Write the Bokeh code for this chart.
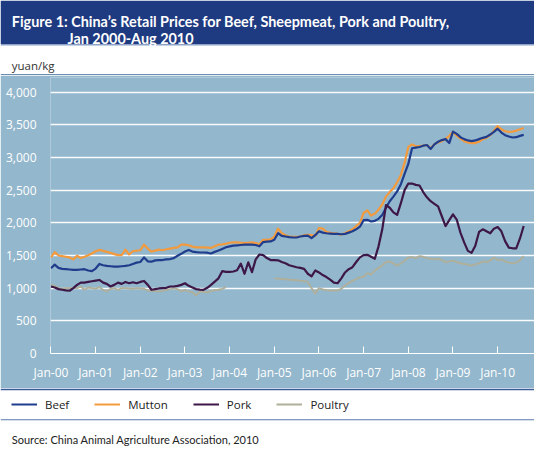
from bokeh.plotting import figure
from bokeh.models import (Range1d, FixedTicker, NumeralTickFormatter, BoxAnnotation,
                          Label, Legend, LegendItem, ColumnDataSource)
from bokeh.layouts import column
from bokeh.embed import file_html
from bokeh.resources import INLINE

nan = float("nan")

# ---------------- data (monthly, Jan 2000 - Aug 2010, yuan/kg) ----------------
tick_months = [0, 12, 24, 36, 48, 60, 72, 84, 96, 108, 120]
tick_labels = ["Jan-00", "Jan-01", "Jan-02", "Jan-03", "Jan-04", "Jan-05",
               "Jan-06", "Jan-07", "Jan-08", "Jan-09", "Jan-10"]
y_ticks = [0, 500, 1000, 1500, 2000, 2500, 3000, 3500, 4000]

beef = [
    1305, 1360, 1310, 1295, 1290, 1285, 1280, 1280, 1285, 1290, 1270, 1260,
    1300, 1370, 1350, 1340, 1335, 1330, 1330, 1335, 1340, 1350, 1370, 1390,
    1400, 1470, 1410, 1405, 1425, 1430, 1430, 1440, 1445, 1460, 1495, 1525,
    1560, 1585, 1560, 1550, 1545, 1545, 1542, 1530, 1555, 1575, 1600, 1625,
    1640, 1650, 1655, 1660, 1665, 1665, 1665, 1660, 1640, 1705, 1712, 1715,
    1740, 1840, 1800, 1790, 1780, 1775, 1775, 1790, 1800, 1805, 1765, 1810,
    1870, 1850, 1840, 1835, 1830, 1830, 1825, 1830, 1850, 1870, 1900, 1940,
    2040, 2045, 2020, 2030, 2060, 2120, 2230, 2330, 2400, 2480, 2590, 2750,
    2900, 3140, 3150, 3160, 3180, 3190, 3130, 3200, 3240, 3265, 3280, 3220,
    3395, 3360, 3310, 3280, 3260, 3250, 3260, 3280, 3300, 3315, 3350, 3390,
    3440, 3380, 3340, 3320, 3305, 3310, 3330, 3345,
]
mutton = [
    1470, 1550, 1500, 1490, 1480, 1470, 1440, 1495, 1460, 1480, 1505, 1530,
    1565, 1585, 1570, 1555, 1540, 1520, 1505, 1505, 1590, 1515, 1565, 1575,
    1580, 1665, 1605, 1560, 1575, 1590, 1580, 1595, 1605, 1615, 1625, 1665,
    1665, 1655, 1635, 1625, 1625, 1625, 1620, 1615, 1640, 1665, 1670, 1680,
    1695, 1700, 1700, 1695, 1690, 1695, 1700, 1690, 1670, 1740, 1740, 1745,
    1790, 1910, 1840, 1810, 1790, 1785, 1785, 1790, 1810, 1815, 1810, 1800,
    1920, 1910, 1860, 1845, 1840, 1830, 1820, 1840, 1870, 1900, 1950, 2000,
    2150, 2190, 2110, 2140, 2200, 2280, 2400, 2470, 2530, 2620, 2730, 2920,
    3160, 3200, 3170, 3175, 3180, 3190, 3140, 3200, 3230, 3250, 3280, 3330,
    3390, 3330, 3290, 3250, 3230, 3220, 3220, 3240, 3280, 3300, 3340, 3410,
    3480, 3430, 3400, 3390, 3395, 3410, 3430, 3450,
]
pork = [
    1025, 1010, 985, 975, 965, 960, 1000, 1050, 1085, 1085, 1095, 1105,
    1115, 1125, 1085, 1065, 1025, 1050, 1085, 1065, 1095, 1075, 1090, 1075,
    1095, 1110, 1050, 975, 985, 995, 1000, 1005, 1025, 1025, 1035, 1050,
    1075, 1035, 1010, 985, 978, 975, 1005, 1050, 1100, 1150, 1260, 1250,
    1250, 1255, 1275, 1375, 1220, 1395, 1245, 1440, 1515, 1505, 1460, 1430,
    1430, 1425, 1400, 1380, 1350, 1335, 1320, 1310, 1295, 1220, 1180, 1270,
    1240, 1200, 1170, 1130, 1085, 1075, 1150, 1240, 1290, 1320, 1400, 1470,
    1505, 1510, 1480, 1450, 1640, 1900, 2270, 2230, 2160, 2120, 2300, 2500,
    2600, 2600, 2580, 2570, 2470, 2390, 2330, 2290, 2250, 2100, 1950, 2040,
    2130, 2050, 1850, 1700, 1570, 1540, 1650, 1860, 1900, 1870, 1840, 1910,
    1935, 1870, 1720, 1620, 1610, 1610, 1760, 1950,
]
poultry = [
    1050, 1035, 1000, 990, 1000, 1000, 1000, 1000, 1025, 975, 1010, 1000,
    990, 1015, 975, 950, 990, 1000, 975, 1000, 1000, 995, 990, 1000,
    995, 990, 965, 960, 955, 950, 955, 975, 985, 1000, 985, 950,
    975, 950, 935, 890, 950, 940, 935, 955, 970, 975, 990, 1015,
    nan, nan, nan, nan, nan, nan, nan, nan, nan, nan, nan, nan,
    1150, 1145, 1140, 1135, 1130, 1125, 1120, 1115, 1105, 1095, 1000, 920,
    1000, 980, 970, 965, 965, 965, 990, 1040, 1080, 1110, 1140, 1165,
    1175, 1230, 1210, 1270, 1310, 1350, 1400, 1410, 1380, 1345, 1380, 1420,
    1470, 1475, 1460, 1490, 1480, 1460, 1450, 1440, 1450, 1430, 1395, 1410,
    1420, 1400, 1380, 1370, 1360, 1345, 1365, 1380, 1410, 1400, 1420, 1470,
    1430, 1440, 1410, 1390, 1380, 1390, 1430, 1490,
]
months = list(range(len(beef)))

series_names = ["Beef", "Mutton", "Pork", "Poultry"]
series_colors = ["#1f3d8c", "#f29a3d", "#3c1747", "#b0af99"]

# ---------------- styling ----------------
W = 534
H_HEAD, H_MAIN, H_FOOT = 75, 313, 62
NAVY = "#1e3a80"
PANEL = "#93b7cc"
TITLE_FONT = "Lato"
BODY_FONT = "Open Sans"


def blank(height):
    f = figure(width=W, height=height, x_range=Range1d(0, W), y_range=Range1d(height, 0),
               output_backend="svg", toolbar_location=None,
               x_axis_location=None, y_axis_location=None, min_border=0,
               min_border_left=0, min_border_right=0, min_border_top=0, min_border_bottom=0,
               outline_line_color=None, background_fill_color="white",
               border_fill_color="white", frame_align=False)
    f.grid.visible = False
    return f


def band(f, top, bottom, color):
    f.add_layout(BoxAnnotation(left=0, right=W, top=top, bottom=bottom, fill_color=color,
                               fill_alpha=1, line_color=None, level="underlay"))


def text(f, x, y, s, size, color, font, style="normal"):
    f.add_layout(Label(x=x, y=y, text=s, text_color=color, text_font=font,
                       text_font_size=size, text_font_style=style,
                       text_baseline="alphabetic"))


# ---------------- header ----------------
head = blank(H_HEAD)
band(head, 0, 43.5, NAVY)
band(head, 43.5, 45, "#8ea2c8")
band(head, 73.5, 75, "#6a8db0")
text(head, 11.3, 20.5, "Figure 1: China\u2019s Retail Prices for Beef, Sheepmeat, Pork and Poultry,",
     "14.4px", "white", TITLE_FONT, "bold")
text(head, 67, 37.5, "Jan 2000-Aug 2010", "14.4px", "white", TITLE_FONT, "bold")
text(head, 11.3, 64.5, "yuan/kg", "11.5px", "#333333", BODY_FONT)

# ---------------- main chart ----------------
src = ColumnDataSource(dict(month=months, Beef=beef, Mutton=mutton, Pork=pork, Poultry=poultry))

p = figure(width=W, height=H_MAIN, x_range=Range1d(-0.13, 129.9), y_range=Range1d(0, 4223),
           output_backend="svg", toolbar_location=None,
           min_border_left=50, min_border_right=0, min_border_top=2, min_border_bottom=35,
           background_fill_color=PANEL, border_fill_color=PANEL, outline_line_color=None,
           frame_align=False)

p.xaxis.ticker = FixedTicker(ticks=tick_months)
p.xaxis.major_label_overrides = {m: l for m, l in zip(tick_months, tick_labels)}
p.xaxis.axis_line_color = "white"
p.xaxis.axis_line_width = 1.2
p.xaxis.major_tick_in = 7
p.xaxis.major_tick_out = 0
p.xaxis.major_tick_line_color = "white"
p.xaxis.major_tick_line_width = 1
p.xaxis.minor_tick_line_color = None
p.xaxis.major_label_text_color = "white"
p.xaxis.major_label_text_font = BODY_FONT
p.xaxis.major_label_text_font_size = "12px"
p.xaxis.major_label_standoff = 10

p.yaxis.ticker = FixedTicker(ticks=y_ticks)
p.yaxis.formatter = NumeralTickFormatter(format="0,0")
p.yaxis.axis_line_color = None
p.yaxis.major_tick_line_color = None
p.yaxis.minor_tick_line_color = None
p.yaxis.major_label_text_color = "white"
p.yaxis.major_label_text_font = BODY_FONT
p.yaxis.major_label_text_font_size = "12px"
p.yaxis.major_label_standoff = 8

p.xgrid.visible = False
p.ygrid.ticker = FixedTicker(ticks=y_ticks)
p.ygrid.grid_line_color = "white"
p.ygrid.grid_line_width = 1.5
p.ygrid.grid_line_alpha = 0.95

for name in ["Poultry", "Mutton", "Beef", "Pork"]:
    c = series_colors[series_names.index(name)]
    p.line("month", name, source=src, line_color=c,
           line_width=2.2 if name != "Poultry" else 1.9, line_join="round")

# ---------------- footer: legend + source ----------------
foot = blank(H_FOOT)
band(foot, 0, 1.8, "#3b5b9b")
band(foot, 30.8, 31.8, "#5a78ad")

items = []
for name, c in zip(series_names, series_colors):
    r = foot.line(x=[nan], y=[nan], line_color=c, line_width=2)
    items.append(LegendItem(label=name, renderers=[r]))
legend = Legend(items=items, orientation="horizontal", location=(11, 38.4),
                padding=0, margin=0, border_line_color=None, background_fill_alpha=0,
                glyph_width=26, glyph_height=14, label_height=14, label_standoff=8,
                spacing=25, label_text_font=BODY_FONT, label_text_font_size="11.5px",
                label_text_color="#222222")
foot.add_layout(legend)
text(foot, 11.3, 51, "Source: China Animal Agriculture Association, 2010",
     "11px", "#222222", TITLE_FONT)

layout = column(head, p, foot, spacing=0)
open("out.html", "w").write(file_html(layout, INLINE))
